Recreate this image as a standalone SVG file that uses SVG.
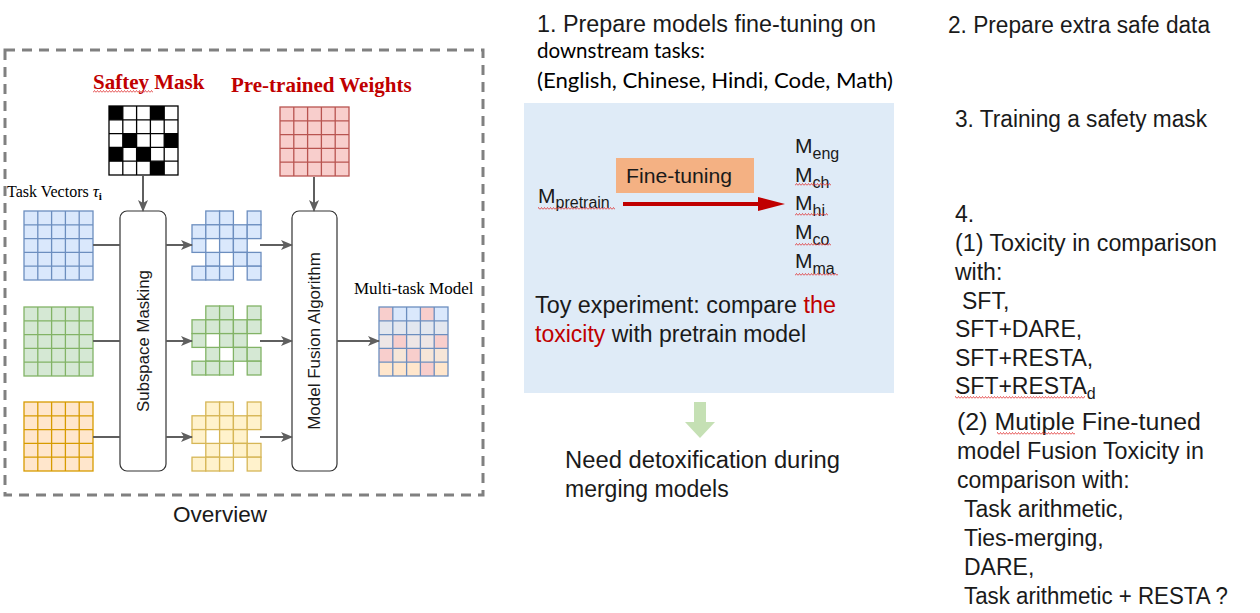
<svg xmlns="http://www.w3.org/2000/svg" xmlns:xlink="http://www.w3.org/1999/xlink" width="1260" height="613" viewBox="0 0 1260 613">
<style>
.serif{font-family:"Liberation Serif","Times New Roman",serif;fill:#000}
.rt{font-family:"Liberation Serif","Times New Roman",serif;font-weight:bold;fill:#C00000;font-size:21px}
.sans{font-family:"Liberation Sans",Arial,sans-serif;fill:#1a1a1a}
.cal{font-family:Lato,"Liberation Sans",sans-serif;fill:#000}
.rc{font-family:"Liberation Sans",Arial,sans-serif;fill:#1a1a1a;font-size:23px}
.conn{stroke:#5f5f5f;stroke-width:2;fill:none}
.box{fill:#fff;stroke:#333;stroke-width:1.2}
.wavy{fill:url(#wavy)}
</style>
<defs>
<marker id="ah" markerUnits="userSpaceOnUse" markerWidth="12" markerHeight="10" refX="11" refY="5" orient="auto">
<path d="M0 0 L12 5 L0 10 L3 5 Z" fill="#5f5f5f"/>
</marker>
<pattern id="wavy" width="3" height="3" patternUnits="userSpaceOnUse">
<path d="M0 2.5 L1.5 0.5 L3 2.5" fill="none" stroke="#e03030" stroke-width="0.8"/>
</pattern>
<g id="fgrid">
<rect width="69" height="69"/>
<path d="M13.8 0V69M27.6 0V69M41.4 0V69M55.2 0V69M0 13.8H69M0 27.6H69M0 41.4H69M0 55.2H69" fill="none"/>
</g>
<g id="mcells">
<rect x="13.8" y="0" width="13.8" height="13.8"/><rect x="27.6" y="0" width="13.8" height="13.8"/><rect x="55.2" y="0" width="13.8" height="13.8"/>
<rect x="0" y="13.8" width="13.8" height="13.8"/><rect x="13.8" y="13.8" width="13.8" height="13.8"/><rect x="27.6" y="13.8" width="13.8" height="13.8"/><rect x="41.4" y="13.8" width="13.8" height="13.8"/><rect x="55.2" y="13.8" width="13.8" height="13.8"/>
<rect x="0" y="27.6" width="13.8" height="13.8"/><rect x="27.6" y="27.6" width="13.8" height="13.8"/><rect x="41.4" y="27.6" width="13.8" height="13.8"/>
<rect x="13.8" y="41.4" width="13.8" height="13.8"/><rect x="41.4" y="41.4" width="13.8" height="13.8"/><rect x="55.2" y="41.4" width="13.8" height="13.8"/>
<rect x="0" y="55.2" width="13.8" height="13.8"/><rect x="13.8" y="55.2" width="13.8" height="13.8"/><rect x="27.6" y="55.2" width="13.8" height="13.8"/><rect x="55.2" y="55.2" width="13.8" height="13.8"/>
</g>
</defs>
<rect width="1260" height="613" fill="#fff"/>

<!-- Overview frame -->
<g id="overview-frame">
<rect x="5" y="50" width="478" height="445" fill="none" stroke="#808080" stroke-width="3" stroke-dasharray="10 7"/>
<text class="sans" x="173" y="522" font-size="22" textLength="94" lengthAdjust="spacingAndGlyphs">Overview</text>
</g>

<g id="safety-mask">
<text class="rt" x="93" y="89">Saftey Mask</text>
<rect class="wavy" x="93" y="90" width="60" height="3"/>
<g transform="translate(109,106)">
<rect width="69" height="69" fill="#fff"/>
<rect x="0" y="0" width="13.8" height="13.8"/><rect x="41.4" y="0" width="13.8" height="13.8"/>
<rect x="13.8" y="27.6" width="13.8" height="13.8"/><rect x="55.2" y="27.6" width="13.8" height="13.8"/>
<rect x="0" y="41.4" width="13.8" height="13.8"/><rect x="27.6" y="41.4" width="13.8" height="13.8"/>
<rect x="41.4" y="55.2" width="13.8" height="13.8"/>
<use xlink:href="#fgrid" fill="none" stroke="#000" stroke-width="1.3"/>
</g>
</g>

<g id="pretrained-weights">
<text class="rt" x="231" y="92">Pre-trained Weights</text>
<use xlink:href="#fgrid" x="280" y="107" fill="#F8CECC" stroke="#B85450" stroke-width="1.3"/>
</g>

<g id="task-vectors">
<text class="serif" x="7" y="197" font-size="16">Task Vectors <tspan font-style="italic" font-size="17">τ</tspan><tspan font-weight="bold" font-size="11" dy="3">i</tspan></text>
<use xlink:href="#fgrid" x="24" y="211" fill="#DAE8FC" stroke="#6C8EBF" stroke-width="1.3"/>
<use xlink:href="#fgrid" x="24" y="307" fill="#D5E8D4" stroke="#82B366" stroke-width="1.3"/>
<use xlink:href="#fgrid" x="24" y="402" fill="#FFE6CC" stroke="#D79B00" stroke-width="1.3"/>
</g>

<g id="subspace-masking">
<rect class="box" x="120" y="211" width="46" height="260" rx="7"/>
<text class="sans" font-size="16.8" text-anchor="middle" transform="translate(143,341) rotate(-90)" y="5.5" fill="#000">Subspace Masking</text>
</g>

<g id="masked-vectors">
<use xlink:href="#mcells" x="192" y="211" fill="#DAE8FC" stroke="#6C8EBF" stroke-width="1.3"/>
<use xlink:href="#mcells" x="192" y="306" fill="#D5E8D4" stroke="#82B366" stroke-width="1.3"/>
<use xlink:href="#mcells" x="192" y="402" fill="#FFF2CC" stroke="#D6B656" stroke-width="1.3"/>
</g>

<g id="model-fusion">
<rect class="box" x="292" y="211" width="45" height="260" rx="7"/>
<text class="sans" font-size="17" text-anchor="middle" transform="translate(314.5,341) rotate(-90)" y="5" fill="#000">Model Fusion Algorithm</text>
</g>

<g id="multi-task-model">
<text class="serif" x="354" y="294" font-size="17">Multi-task Model</text>
<g transform="translate(379,307)">
<rect x="0" y="0" width="13.8" height="13.8" fill="#F8CECC"/><rect x="13.8" y="0" width="13.8" height="13.8" fill="#DAE8FC"/><rect x="27.6" y="0" width="13.8" height="13.8" fill="#DAE8FC"/><rect x="41.4" y="0" width="13.8" height="13.8" fill="#F8CECC"/><rect x="55.2" y="0" width="13.8" height="13.8" fill="#DAE8FC"/>
<rect x="0" y="13.8" width="69" height="13.8" fill="#E3E7EF"/>
<rect x="0" y="27.6" width="69" height="13.8" fill="#EEE6E6"/><rect x="13.8" y="27.6" width="13.8" height="13.8" fill="#F8CECC"/><rect x="55.2" y="27.6" width="13.8" height="13.8" fill="#F8CECC"/>
<rect x="0" y="41.4" width="69" height="13.8" fill="#F6E6D8"/><rect x="0" y="41.4" width="13.8" height="13.8" fill="#F8CECC"/><rect x="27.6" y="41.4" width="13.8" height="13.8" fill="#F8CECC"/>
<rect x="0" y="55.2" width="69" height="13.8" fill="#FFE6CC"/><rect x="41.4" y="55.2" width="13.8" height="13.8" fill="#F8CECC"/>
<use xlink:href="#fgrid" fill="none" stroke="#6C8EBF" stroke-width="1.3"/>
</g>
</g>

<g id="connectors">
<line class="conn" x1="143" y1="176" x2="143" y2="211" marker-end="url(#ah)"/>
<line class="conn" x1="314" y1="177" x2="314" y2="211" marker-end="url(#ah)"/>
<line class="conn" x1="93" y1="245" x2="120" y2="245"/>
<line class="conn" x1="93" y1="341" x2="120" y2="341"/>
<line class="conn" x1="93" y1="437" x2="120" y2="437"/>
<line class="conn" x1="166" y1="245" x2="192" y2="245" marker-end="url(#ah)"/>
<line class="conn" x1="166" y1="341" x2="192" y2="341" marker-end="url(#ah)"/>
<line class="conn" x1="166" y1="437" x2="192" y2="437" marker-end="url(#ah)"/>
<line class="conn" x1="260" y1="245" x2="292" y2="245" marker-end="url(#ah)"/>
<line class="conn" x1="260" y1="341" x2="292" y2="341" marker-end="url(#ah)"/>
<line class="conn" x1="260" y1="437" x2="292" y2="437" marker-end="url(#ah)"/>
<line class="conn" x1="337" y1="341" x2="379" y2="341" marker-end="url(#ah)"/>
</g>

<!-- Step 1 -->
<g id="step1-title">
<text class="rc" x="537" y="32" textLength="339" lengthAdjust="spacingAndGlyphs">1. Prepare models fine-tuning on</text>
<text class="cal" x="537" y="58" font-size="22" textLength="168" lengthAdjust="spacingAndGlyphs">downstream tasks:</text>
<text class="cal" x="537" y="88" font-size="22" textLength="356" lengthAdjust="spacingAndGlyphs">(English, Chinese, Hindi, Code, Math)</text>
</g>

<g id="toy-box">
<rect x="524" y="103" width="370" height="290" fill="#DFEBF7"/>
<rect x="616" y="158" width="138" height="35" fill="#F4B183"/>
<text class="sans" x="626" y="183" font-size="20.5" textLength="106" lengthAdjust="spacingAndGlyphs">Fine-tuning</text>
<line x1="623" y1="204" x2="762" y2="204" stroke="#C00000" stroke-width="4"/>
<polygon points="758,197 785,204 758,211" fill="#C00000"/>
<text class="sans" x="538" y="203" font-size="21">M<tspan font-size="16" dy="5">pretrain</tspan></text>
<rect class="wavy" x="538" y="207" width="77" height="3"/>
<text class="sans" x="795" y="153" font-size="21">M<tspan font-size="16" dy="6">eng</tspan></text>
<text class="sans" x="795" y="182" font-size="21">M<tspan font-size="16" dy="6">ch</tspan></text>
<rect class="wavy" x="795" y="183" width="36" height="3"/>
<text class="sans" x="795" y="210" font-size="21">M<tspan font-size="16" dy="6">hi</tspan></text>
<rect class="wavy" x="795" y="213" width="33" height="3"/>
<text class="sans" x="795" y="239" font-size="21">M<tspan font-size="16" dy="6">co</tspan></text>
<rect class="wavy" x="795" y="243" width="36" height="3"/>
<text class="sans" x="795" y="268" font-size="21">M<tspan font-size="16" dy="6">ma</tspan></text>
<rect class="wavy" x="795" y="273" width="43" height="3"/>
<text class="rc" x="535" y="313" textLength="301" lengthAdjust="spacingAndGlyphs">Toy experiment: compare <tspan fill="#C00000">the</tspan></text>
<text class="rc" x="535" y="342"><tspan fill="#C00000">toxicity</tspan> with pretrain model</text>
</g>

<g id="down-arrow">
<polygon points="694,402 706,402 706,422 715,422 700,438 685,422 694,422" fill="#C5E0B4"/>
</g>

<g id="detox-note">
<text class="rc" x="565" y="468" textLength="275" lengthAdjust="spacingAndGlyphs">Need detoxification during</text>
<text class="rc" x="565" y="497">merging models</text>
</g>

<g id="step2">
<text class="rc" x="948" y="33" textLength="262" lengthAdjust="spacingAndGlyphs">2. Prepare extra safe data</text>
</g>
<g id="step3">
<text class="rc" x="955" y="127" textLength="252" lengthAdjust="spacingAndGlyphs">3. Training a safety mask</text>
</g>

<g id="step4">
<text class="rc" x="955" y="222">4.</text>
<text class="rc" x="955" y="251" textLength="262" lengthAdjust="spacingAndGlyphs">(1) Toxicity in comparison</text>
<text class="rc" x="955" y="280">with:</text>
<text class="rc" x="962" y="309">SFT,</text>
<text class="rc" x="955" y="337">SFT+DARE,</text>
<text class="rc" x="955" y="366">SFT+RESTA,</text>
<text class="rc" x="955" y="394">SFT+RESTA<tspan font-size="16" dy="5">d</tspan></text>
<rect class="wavy" x="955" y="396" width="130" height="3"/>
<text class="rc" x="957" y="430" textLength="244" lengthAdjust="spacingAndGlyphs">(2) Mutiple Fine-tuned</text>
<rect class="wavy" x="997" y="432" width="78" height="3"/>
<text class="rc" x="957" y="459" textLength="247" lengthAdjust="spacingAndGlyphs">model Fusion Toxicity in</text>
<text class="rc" x="957" y="488">comparison with:</text>
<text class="rc" x="964" y="517">Task arithmetic,</text>
<text class="rc" x="964" y="546">Ties-merging,</text>
<text class="rc" x="964" y="575">DARE,</text>
<text class="rc" x="964" y="604" textLength="264" lengthAdjust="spacingAndGlyphs">Task arithmetic + RESTA ?</text>
</g>
</svg>
